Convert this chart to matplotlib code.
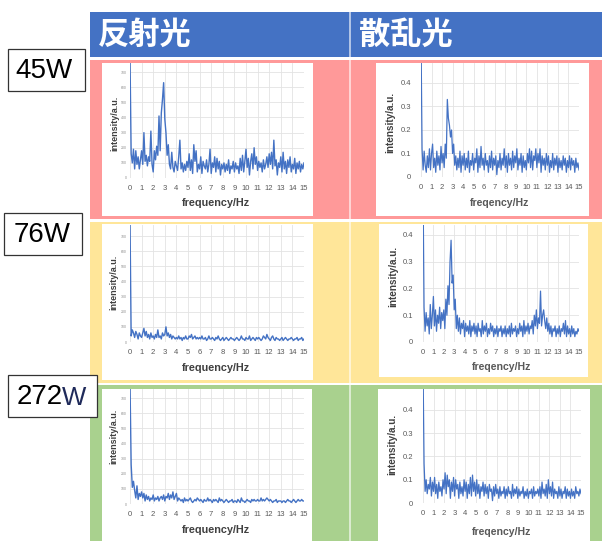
import numpy as np
import matplotlib
matplotlib.use("Agg")
import matplotlib.pyplot as plt
from matplotlib.patches import Rectangle

W, H = 602, 541

# frequency grid, 0.1 Hz steps
freq = np.round(np.arange(0, 15.05, 0.1), 1)

# reflected light, a.u.
refl_45w = [
    800, 160, 100, 190, 60, 180, 90, 140, 60, 120,
    180, 90, 300, 110, 150, 80, 140, 110, 310, 90,
    40, 180, 120, 210, 150, 410, 180, 430, 520, 630,
    390, 300, 150, 220, 90, 60, 170, 70, 40, 110,
    80, 50, 140, 250, 60, 100, 40, 90, 50, 110,
    70, 160, 50, 120, 30, 220, 110, 180, 40, 90,
    60, 140, 30, 110, 80, 60, 120, 40, 90, 190,
    30, 100, 70, 140, 40, 130, 60, 110, 20, 90,
    60, 100, 40, 90, 50, 120, 30, 80, 60, 110,
    40, 100, 60, 80, 30, 130, 50, 150, 40, 110,
    190, 70, 130, 20, 110, 160, 60, 200, 90, 140,
    50, 110, 70, 100, 40, 120, 60, 90, 140, 70,
    160, 90, 170, 60, 250, 80, 120, 20, 100, 70,
    140, 40, 170, 60, 110, 30, 120, 70, 140, 40,
    90, 60, 130, 30, 100, 60, 110, 40, 90, 60,
    100]
refl_76w = [
    800, 40, 80, 60, 30, 70, 50, 20, 60, 40,
    30, 60, 90, 40, 70, 30, 50, 20, 60, 30,
    40, 20, 50, 30, 80, 30, 40, 20, 60, 40,
    50, 100, 40, 60, 30, 50, 20, 40, 30, 20,
    30, 20, 40, 20, 30, 10, 30, 20, 40, 20,
    20, 40, 30, 50, 20, 30, 40, 20, 30, 20,
    30, 20, 40, 20, 20, 30, 10, 20, 40, 20,
    20, 30, 20, 10, 30, 20, 40, 20, 10, 20,
    30, 10, 20, 30, 20, 10, 20, 30, 20, 20,
    10, 20, 30, 20, 10, 20, 40, 20, 20, 10,
    30, 20, 20, 40, 10, 20, 30, 20, 10, 30,
    20, 30, 20, 10, 20, 40, 30, 20, 50, 30,
    20, 10, 30, 40, 20, 10, 30, 20, 20, 10,
    20, 30, 10, 20, 30, 20, 10, 20, 20, 30,
    20, 10, 20, 20, 30, 10, 20, 20, 30, 10,
    20]
refl_272w = [
    800, 260, 110, 150, 90, 40, 120, 30, 70, 50,
    80, 40, 70, 20, 60, 30, 50, 20, 40, 30,
    60, 20, 40, 30, 50, 20, 40, 50, 30, 60,
    20, 50, 40, 70, 30, 60, 40, 80, 30, 50,
    70, 20, 40, 30, 20, 30, 10, 40, 20, 30,
    20, 30, 40, 20, 10, 20, 30, 20, 40, 30,
    20, 30, 20, 10, 30, 20, 20, 40, 20, 30,
    20, 10, 30, 20, 30, 20, 10, 40, 20, 30,
    20, 10, 20, 30, 20, 10, 20, 20, 30, 10,
    20, 20, 10, 30, 20, 10, 40, 20, 20, 10,
    20, 30, 20, 20, 10, 30, 20, 30, 20, 20,
    30, 20, 20, 40, 20, 30, 20, 30, 40, 30,
    20, 30, 20, 10, 20, 20, 30, 10, 20, 20,
    20, 10, 20, 20, 10, 20, 30, 20, 20, 10,
    20, 30, 20, 10, 20, 30, 20, 20, 30, 20,
    20]

# scattered light, a.u.
scat_45w = [
    0.60, 0.12, 0.03, 0.11, 0.05, 0.02, 0.09, 0.04, 0.12, 0.03,
    0.10, 0.14, 0.04, 0.08, 0.02, 0.11, 0.05, 0.09, 0.03, 0.13,
    0.06, 0.10, 0.04, 0.14, 0.08, 0.33, 0.25, 0.22, 0.17, 0.20,
    0.10, 0.14, 0.05, 0.09, 0.03, 0.08, 0.04, 0.11, 0.02, 0.09,
    0.05, 0.10, 0.03, 0.08, 0.04, 0.11, 0.02, 0.07, 0.05, 0.10,
    0.03, 0.08, 0.06, 0.12, 0.02, 0.09, 0.04, 0.13, 0.05, 0.08,
    0.03, 0.10, 0.05, 0.07, 0.02, 0.09, 0.04, 0.11, 0.03, 0.08,
    0.05, 0.09, 0.01, 0.07, 0.04, 0.10, 0.03, 0.08, 0.05, 0.12,
    0.04, 0.09, 0.02, 0.10, 0.05, 0.08, 0.03, 0.11, 0.04, 0.09,
    0.06, 0.12, 0.03, 0.08, 0.05, 0.10, 0.02, 0.09, 0.04, 0.07,
    0.03, 0.10, 0.06, 0.12, 0.04, 0.11, 0.03, 0.09, 0.07, 0.12,
    0.04, 0.10, 0.06, 0.12, 0.02, 0.09, 0.05, 0.08, 0.03, 0.10,
    0.05, 0.09, 0.02, 0.07, 0.04, 0.10, 0.03, 0.08, 0.05, 0.09,
    0.02, 0.08, 0.04, 0.07, 0.03, 0.09, 0.05, 0.08, 0.02, 0.07,
    0.04, 0.09, 0.03, 0.08, 0.05, 0.07, 0.02, 0.08, 0.04, 0.06,
    0.03]
scat_76w = [
    0.60, 0.13, 0.04, 0.11, 0.06, 0.09, 0.03, 0.14, 0.05, 0.10,
    0.17, 0.06, 0.12, 0.04, 0.10, 0.07, 0.13, 0.05, 0.11, 0.08,
    0.12, 0.05, 0.16, 0.10, 0.21, 0.14, 0.30, 0.38, 0.22, 0.25,
    0.12, 0.16, 0.05, 0.10, 0.04, 0.09, 0.03, 0.07, 0.05, 0.08,
    0.02, 0.07, 0.04, 0.06, 0.03, 0.08, 0.02, 0.06, 0.04, 0.07,
    0.03, 0.06, 0.02, 0.07, 0.04, 0.05, 0.02, 0.08, 0.03, 0.06,
    0.04, 0.07, 0.02, 0.05, 0.03, 0.07, 0.04, 0.06, 0.02, 0.05,
    0.03, 0.06, 0.02, 0.05, 0.04, 0.06, 0.02, 0.05, 0.03, 0.06,
    0.02, 0.05, 0.03, 0.06, 0.02, 0.07, 0.03, 0.05, 0.04, 0.06,
    0.02, 0.05, 0.03, 0.07, 0.04, 0.06, 0.02, 0.08, 0.03, 0.06,
    0.04, 0.07, 0.03, 0.06, 0.05, 0.08, 0.03, 0.10, 0.06, 0.12,
    0.05, 0.09, 0.07, 0.19, 0.06, 0.10, 0.12, 0.08, 0.05, 0.09,
    0.04, 0.07, 0.03, 0.06, 0.02, 0.05, 0.04, 0.06, 0.02, 0.05,
    0.03, 0.06, 0.02, 0.05, 0.04, 0.07, 0.03, 0.08, 0.02, 0.06,
    0.03, 0.05, 0.02, 0.06, 0.03, 0.05, 0.02, 0.04, 0.03, 0.05,
    0.04]
scat_272w = [
    0.60, 0.17, 0.05, 0.10, 0.04, 0.08, 0.06, 0.11, 0.03, 0.09,
    0.05, 0.11, 0.04, 0.08, 0.02, 0.09, 0.05, 0.07, 0.03, 0.10,
    0.06, 0.13, 0.04, 0.12, 0.07, 0.10, 0.02, 0.09, 0.05, 0.11,
    0.03, 0.10, 0.06, 0.08, 0.02, 0.09, 0.04, 0.07, 0.03, 0.10,
    0.05, 0.09, 0.02, 0.08, 0.04, 0.11, 0.03, 0.12, 0.05, 0.09,
    0.03, 0.10, 0.04, 0.08, 0.02, 0.07, 0.05, 0.09, 0.03, 0.08,
    0.04, 0.07, 0.02, 0.08, 0.05, 0.06, 0.01, 0.07, 0.03, 0.08,
    0.04, 0.06, 0.02, 0.07, 0.03, 0.05, 0.04, 0.07, 0.02, 0.06,
    0.03, 0.07, 0.04, 0.05, 0.02, 0.08, 0.03, 0.06, 0.04, 0.07,
    0.02, 0.06, 0.03, 0.05, 0.04, 0.07, 0.02, 0.05, 0.03, 0.06,
    0.02, 0.05, 0.04, 0.06, 0.02, 0.07, 0.03, 0.05, 0.04, 0.06,
    0.03, 0.07, 0.02, 0.09, 0.04, 0.06, 0.03, 0.08, 0.02, 0.10,
    0.04, 0.07, 0.03, 0.09, 0.02, 0.06, 0.04, 0.05, 0.02, 0.07,
    0.03, 0.06, 0.02, 0.05, 0.04, 0.07, 0.02, 0.06, 0.03, 0.05,
    0.02, 0.06, 0.03, 0.05, 0.02, 0.07, 0.04, 0.05, 0.03, 0.06,
    0.04]

columns = ["反射光", "散乱光"]
powers = ["45W", "76W", "272"]
refl_yticks = [0, 100, 200, 300, 400, 500, 600, 700]
scat_yticks = [0, 0.1, 0.2, 0.3, 0.4]

BLUE = "#4472C4"
GRID = "#e3e3e3"
TICK = "#595959"
LATIN = ["Liberation Sans", "DejaVu Sans"]
CJK = ["Noto Sans CJK JP", "DejaVu Sans"]


def frac(x0, y0, x1, y1):
    return [x0 / W, 1 - y1 / H, (x1 - x0) / W, (y1 - y0) / H]


fig = plt.figure(figsize=(W / 100, H / 100), dpi=100)
fig.patch.set_facecolor("white")

bg = fig.add_axes([0, 0, 1, 1])
bg.set_xlim(0, W)
bg.set_ylim(H, 0)
bg.axis("off")

# header band and row bands
bg.add_patch(Rectangle((90, 12), 512, 45, color="#4472C4", lw=0))
for y0, y1, c in [(60, 219, "#FF9999"), (222, 383, "#FFE699"), (385, 541, "#A9D18E")]:
    bg.add_patch(Rectangle((90, y0), 512, y1 - y0, color=c, lw=0))
bg.plot([349.5, 349.5], [12, 541], color="white", lw=1.2, alpha=0.7)

bg.text(98, 35, columns[0], color="white", fontsize=22.5, fontweight="bold",
        family=CJK, va="center", ha="left")
bg.text(359, 35, columns[1], color="white", fontsize=22.5, fontweight="bold",
        family=CJK, va="center", ha="left")

# power labels
for (x0, y0, x1, y1) in [(8, 49, 85, 91), (4, 213, 82, 255), (8, 375, 97, 417)]:
    bg.add_patch(Rectangle((x0, y0), x1 - x0, y1 - y0, facecolor="white",
                           edgecolor="#333333", lw=0.9, zorder=5))
bg.text(44, 71, powers[0], fontsize=20, family=LATIN, ha="center", va="center", zorder=6)
bg.text(42, 235, powers[1], fontsize=20, family=LATIN, ha="center", va="center", zorder=6)
bg.text(17, 397, powers[2], fontsize=20, family=LATIN, ha="left", va="center", zorder=6)
bg.text(62, 398, "W", fontsize=18.5, family=LATIN, color="#1f2a5a", ha="left",
        va="center", zorder=6)

# white chart cards
cards = [(102, 63, 313, 216), (376, 63, 589, 216),
         (102, 224, 313, 380), (379, 224, 588, 377),
         (102, 389, 312, 541), (378, 389, 590, 541)]
for (x0, y0, x1, y1) in cards:
    bg.add_patch(Rectangle((x0, y0), x1 - x0, y1 - y0, color="white", lw=0))

# plot areas: (left, top, right, y of zero), ymax, label centres
panels = [
    (refl_45w, (130, 63, 304, 178), 760, "refl", (115, 123), (216, 203)),
    (scat_45w, (421, 63, 579, 177), 0.485, "scat", (390, 122), (500, 203)),
    (refl_76w, (130, 225, 304, 342), 773, "refl", (114, 282), (216, 368)),
    (scat_76w, (423, 225, 579, 342), 0.437, "scat", (393, 276), (502, 367)),
    (refl_272w, (130, 389, 304, 504), 760, "refl", (114, 436), (216, 530)),
    (scat_272w, (423, 389, 581, 503), 0.49, "scat", (392, 444), (502, 532)),
]

for vals, (x0, y0, x1, y1), ymax, kind, ylab, xlab in panels:
    ax = fig.add_axes(frac(x0, y0, x1, y1))
    ax.set_facecolor("none")
    ax.plot(freq, vals, color=BLUE, lw=1.0 if kind == "refl" else 0.9)
    ax.set_xlim(0, 15)
    ax.set_ylim(0, ymax)
    ax.set_xticks(range(16))
    ax.set_xticklabels([str(i) for i in range(16)], fontsize=5.5, color=TICK,
                       family=LATIN)
    if kind == "refl":
        ax.set_yticks(refl_yticks)
        ax.set_yticklabels([str(v) for v in refl_yticks], fontsize=2.5,
                           color="#8c8c8c", family=LATIN)
        ax.tick_params(axis="y", pad=2)
        ylabel, ysize = "intensity/a.u.", 6.5
        xlabel, xsize, xcolor = "frequency/Hz", 7.8, "#404040"
    else:
        ax.set_yticks(scat_yticks)
        ax.set_yticklabels(["0", "0.1", "0.2", "0.3", "0.4"], fontsize=5.5,
                           color=TICK, family=LATIN)
        ax.tick_params(axis="y", pad=7)
        ylabel, ysize = "intensity/a.u.", 7.2
        xlabel, xsize, xcolor = "freqency/Hz", 7.6, TICK
    ax.tick_params(axis="x", pad=5)
    ax.tick_params(length=0)
    ax.grid(True, color=GRID, lw=0.6)
    ax.set_axisbelow(True)
    for s in ax.spines.values():
        s.set_visible(False)
    bg.text(ylab[0], ylab[1], ylabel, rotation=90, fontsize=ysize,
            fontweight="bold", color="#404040", family=LATIN,
            ha="center", va="center")
    bg.text(xlab[0], xlab[1], xlabel, fontsize=xsize, fontweight="bold",
            color=xcolor, family=LATIN, ha="center", va="center")

fig.savefig("out.png", dpi=100)
